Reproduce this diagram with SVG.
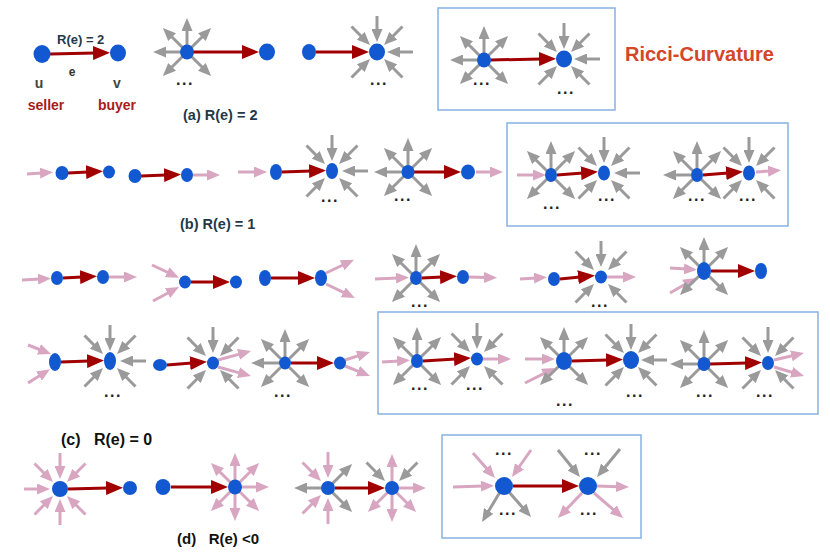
<svg xmlns="http://www.w3.org/2000/svg" width="830" height="554" viewBox="0 0 830 554">
<style>
.g{stroke:#9a9a9a;stroke-width:3;fill:none;marker-end:url(#mg)}
.p{stroke:#d8a6c0;stroke-width:3;fill:none;marker-end:url(#mp)}
.r{stroke:#a00000;stroke-width:3;fill:none;marker-end:url(#mr)}
.n{fill:#1259d1}
.frame{fill:#fff;stroke:#86b2e2;stroke-width:1.5}
.t{font-family:"Liberation Sans",Arial,sans-serif;font-weight:bold}
.lab{fill:#22394a}
.dots{fill:#222;font-size:16px;text-anchor:middle;letter-spacing:1.5px}
.mid{text-anchor:middle}
</style>
<defs>
<marker id="mg" viewBox="0 0 13 11" markerWidth="13" markerHeight="11" refX="2" refY="5.5" orient="auto" markerUnits="userSpaceOnUse"><path d="M0,0L13,5.5L0,11z" fill="#9a9a9a"/></marker>
<marker id="mp" viewBox="0 0 13 11" markerWidth="13" markerHeight="11" refX="2" refY="5.5" orient="auto" markerUnits="userSpaceOnUse"><path d="M0,0L13,5.5L0,11z" fill="#d8a6c0"/></marker>
<marker id="mr" viewBox="0 0 17 14" markerWidth="17" markerHeight="14" refX="2" refY="7" orient="auto" markerUnits="userSpaceOnUse"><path d="M0,0L17,7L0,14z" fill="#a00000"/></marker>
<path id="o-u" d="M0,-6L0,-23"/>
<path id="o-ul" d="M-4.2,-4.2L-16.3,-16.3"/>
<path id="o-ur" d="M4.2,-4.2L16.3,-16.3"/>
<path id="o-l" d="M-6,0L-23,0"/>
<path id="o-r" d="M6,0L23,0"/>
<path id="o-dl" d="M-4.2,4.2L-16.3,16.3"/>
<path id="o-dr" d="M4.2,4.2L16.3,16.3"/>
<path id="o-d" d="M0,6L0,23"/>
<path id="i-u" d="M0,-36L0,-21"/>
<path id="i-ul" d="M-25.5,-25.5L-14.8,-14.8"/>
<path id="i-ur" d="M25.5,-25.5L14.8,-14.8"/>
<path id="i-l" d="M-36,0L-21,0"/>
<path id="i-r" d="M36,0L21,0"/>
<path id="i-dl" d="M-25.5,25.5L-14.8,14.8"/>
<path id="i-dr" d="M25.5,25.5L14.8,14.8"/>
<path id="i-d" d="M0,36L0,21"/>
<g id="out5"><use href="#o-u"/><use href="#o-ul"/><use href="#o-ur"/><use href="#o-dl"/><use href="#o-dr"/></g>
<g id="out6"><use href="#out5"/><use href="#o-l"/></g>
<g id="in5"><use href="#i-u"/><use href="#i-ul"/><use href="#i-ur"/><use href="#i-dl"/><use href="#i-dr"/></g>
<g id="in6"><use href="#in5"/><use href="#i-r"/></g>
<g id="in7"><use href="#in5"/><use href="#i-l"/><use href="#i-d"/></g>
<g id="out7"><use href="#out5"/><use href="#o-r"/><use href="#o-d"/></g>
</defs>
<rect width="830" height="554" fill="#fff"/>
<g id="frames">
<rect class="frame" x="438" y="8" width="177" height="102"/>
<rect class="frame" x="507" y="123" width="281" height="103"/>
<rect class="frame" x="378" y="312" width="440" height="102"/>
<rect class="frame" x="442" y="435" width="199" height="103"/>
</g>
<g id="connectors">
<path class="r" d="M50,54L95,53"/>
<path class="r" d="M193,52L244,52"/>
<path class="r" d="M316,52L354,52"/>
<path class="r" d="M490,60L541,59"/>
<path class="r" d="M68,173L88,172"/>
<path class="r" d="M141,176L166,175"/>
<path class="r" d="M282,172L311,171"/>
<path class="r" d="M414,172L446,172"/>
<path class="r" d="M557,175L583,173"/>
<path class="r" d="M703,175L728,173"/>
<path class="r" d="M63,278L82,277"/>
<path class="r" d="M191,282L215,282"/>
<path class="r" d="M271,278L300,278"/>
<path class="r" d="M422,278L442,277"/>
<path class="r" d="M560,279L580,277"/>
<path class="r" d="M711,271L740,271"/>
<path class="r" d="M61,362L89,361"/>
<path class="r" d="M167,365L192,363"/>
<path class="r" d="M291,363L319,363"/>
<path class="r" d="M423,361L456,359"/>
<path class="r" d="M572,361L608,360"/>
<path class="r" d="M710,364L747,363"/>
<path class="r" d="M68,489L108,488"/>
<path class="r" d="M171,487L213,487"/>
<path class="r" d="M335,488L370,488"/>
<path class="r" d="M513,486L564,486"/>
<path class="p" d="M27,174L42,173"/>
<path class="p" d="M193,175L209,175"/>
<path class="p" d="M238,172L256,172"/>
<path class="p" d="M476,172L492,172"/>
<path class="p" d="M517,175L535,175"/>
<path class="p" d="M756,172L770,171"/>
<path class="p" d="M22,280L40,279"/>
<path class="p" d="M109,277L126,277"/>
<path class="p" d="M152,265L169,273"/>
<path class="p" d="M153,301L169.3,292.2"/>
<path class="p" d="M326,273L344,264.5"/>
<path class="p" d="M326,284L345,293.2"/>
<path class="p" d="M375,279L398,278"/>
<path class="p" d="M469,277L486,277.5"/>
<path class="p" d="M520,279L536,278"/>
<path class="p" d="M607,277L625,277"/>
<path class="p" d="M670,268L686,269"/>
<path class="p" d="M670,293L686.5,283.5"/>
<path class="p" d="M28,345L40.8,350"/>
<path class="p" d="M28,383L40.7,375"/>
<path class="p" d="M218,360L240.4,353.9"/>
<path class="p" d="M218,367L240.4,373.1"/>
<path class="p" d="M345,360L359.5,355.4"/>
<path class="p" d="M345,366L359.8,371.9"/>
<path class="p" d="M382,362L399,361"/>
<path class="p" d="M483,359L500,359"/>
<path class="p" d="M525,359L544,359"/>
<path class="p" d="M525,383L545.2,372.9"/>
<path class="p" d="M774,360L793.3,355.5"/>
<path class="p" d="M774,367L793.5,372.8"/>
<path class="p" d="M453,487L483,486"/>
<path class="p" d="M473,453L487.7,469.8"/>
<path class="p" d="M531,450L518.3,468"/>
<path class="g" d="M500,492L487.7,512.6"/>
<path class="g" d="M509,492L523.7,508.7"/>
<path class="g" d="M558,450L573,468.5"/>
<path class="g" d="M620,449L604,468.5"/>
<path class="p" d="M597,486L618,486.7"/>
<path class="p" d="M582,493L565.6,510.1"/>
<path class="p" d="M594,493L614.7,510.8"/>
</g>
<g id="n-u"><ellipse class="n" cx="42" cy="54" rx="8.5" ry="9"/></g>
<g id="n-v"><ellipse class="n" cx="118" cy="53" rx="8" ry="8.5"/></g>
<g id="n-a3"><use href="#out6" x="187" y="52" class="g"/><ellipse class="n" cx="187" cy="52" rx="7" ry="7.5"/></g>
<g id="n-a4"><ellipse class="n" cx="267" cy="52" rx="8" ry="8.5"/></g>
<g id="n-a5"><ellipse class="n" cx="309" cy="52" rx="7" ry="8"/></g>
<g id="n-a6"><use href="#in6" x="377" y="52" class="g"/><ellipse class="n" cx="377" cy="52" rx="8" ry="8.5"/></g>
<g id="n-a7"><use href="#out6" x="484" y="60" class="g"/><ellipse class="n" cx="484" cy="60" rx="7" ry="7.5"/></g>
<g id="n-a8"><use href="#in6" x="564" y="59" class="g"/><ellipse class="n" cx="564" cy="59" rx="8" ry="8.5"/></g>
<g id="n-b1"><ellipse class="n" cx="62" cy="173" rx="6.5" ry="7"/></g>
<g id="n-b2"><ellipse class="n" cx="109" cy="172" rx="6" ry="6.5"/></g>
<g id="n-b3"><ellipse class="n" cx="135" cy="176" rx="6.5" ry="7"/></g>
<g id="n-b4"><ellipse class="n" cx="187" cy="175" rx="6" ry="7"/></g>
<g id="n-b5"><ellipse class="n" cx="276" cy="172" rx="6" ry="8"/></g>
<g id="n-b6"><use href="#in6" x="332" y="171" class="g"/><ellipse class="n" cx="332" cy="171" rx="6" ry="8"/></g>
<g id="n-b7"><use href="#out6" x="408" y="172" class="g"/><ellipse class="n" cx="408" cy="172" rx="6.5" ry="7"/></g>
<g id="n-b8"><ellipse class="n" cx="468" cy="172" rx="7" ry="7.5"/></g>
<g id="n-b9"><use href="#out5" x="551" y="175" class="g"/><ellipse class="n" cx="551" cy="175" rx="6" ry="7"/></g>
<g id="n-b10"><use href="#in6" x="604" y="173" class="g"/><ellipse class="n" cx="604" cy="173" rx="6" ry="7.5"/></g>
<g id="n-b11"><use href="#out6" x="697" y="175" class="g"/><ellipse class="n" cx="697" cy="175" rx="6" ry="7"/></g>
<g id="n-b12"><use href="#in5" x="749" y="173" class="g"/><ellipse class="n" cx="749" cy="173" rx="6" ry="7.5"/></g>
<g id="n-c1"><ellipse class="n" cx="57" cy="278" rx="6" ry="7"/></g>
<g id="n-c2"><ellipse class="n" cx="103" cy="277" rx="6" ry="7"/></g>
<g id="n-c3"><ellipse class="n" cx="185" cy="282" rx="6" ry="6.5"/></g>
<g id="n-c4"><ellipse class="n" cx="236" cy="282" rx="6" ry="6.5"/></g>
<g id="n-c5"><ellipse class="n" cx="265" cy="278" rx="6" ry="8"/></g>
<g id="n-c6"><ellipse class="n" cx="321" cy="278" rx="6" ry="8"/></g>
<g id="n-c7"><use href="#out5" x="416" y="278" class="g"/><ellipse class="n" cx="416" cy="278" rx="6" ry="7"/></g>
<g id="n-c8"><ellipse class="n" cx="463" cy="277" rx="6" ry="7"/></g>
<g id="n-c9"><ellipse class="n" cx="554" cy="279" rx="6" ry="7"/></g>
<g id="n-c10"><use href="#in5" x="601" y="277" class="g"/><ellipse class="n" cx="601" cy="277" rx="6" ry="6.5"/></g>
<g id="n-c11"><use href="#out5" x="704" y="271" class="g"/><ellipse class="n" cx="704" cy="271" rx="7" ry="9"/></g>
<g id="n-c12"><ellipse class="n" cx="761" cy="271" rx="6" ry="8"/></g>
<g id="n-c13"><ellipse class="n" cx="55" cy="362" rx="6" ry="9"/></g>
<g id="n-c14"><use href="#in6" x="110" y="361" class="g"/><ellipse class="n" cx="110" cy="361" rx="6" ry="9"/></g>
<g id="n-c15"><ellipse class="n" cx="160" cy="365" rx="7" ry="6"/></g>
<g id="n-c16"><use href="#in5" x="213" y="363" class="g"/><ellipse class="n" cx="213" cy="363" rx="6" ry="6.5"/></g>
<g id="n-c17"><use href="#out6" x="285" y="363" class="g"/><ellipse class="n" cx="285" cy="363" rx="6" ry="6.5"/></g>
<g id="n-c18"><ellipse class="n" cx="340" cy="363" rx="6" ry="6.5"/></g>
<g id="n-c19"><use href="#out5" x="417" y="361" class="g"/><ellipse class="n" cx="417" cy="361" rx="6" ry="7"/></g>
<g id="n-c20"><use href="#in5" x="477" y="359" class="g"/><ellipse class="n" cx="477" cy="359" rx="6" ry="6.5"/></g>
<g id="n-c21"><use href="#out5" x="564" y="361" class="g"/><ellipse class="n" cx="564" cy="361" rx="8" ry="9"/></g>
<g id="n-c22"><use href="#in6" x="631" y="360" class="g"/><ellipse class="n" cx="631" cy="360" rx="8" ry="9"/></g>
<g id="n-c23"><use href="#out6" x="704" y="364" class="g"/><ellipse class="n" cx="704" cy="364" rx="6.5" ry="7"/></g>
<g id="n-c24"><use href="#in5" x="768" y="363" class="g"/><ellipse class="n" cx="768" cy="363" rx="6" ry="7"/></g>
<g id="n-d1"><use href="#in7" x="60" y="489" class="p"/><ellipse class="n" cx="60" cy="489" rx="8" ry="8"/></g>
<g id="n-d2"><ellipse class="n" cx="130" cy="488" rx="7" ry="7"/></g>
<g id="n-d3"><ellipse class="n" cx="163" cy="487" rx="7.5" ry="8"/></g>
<g id="n-d4"><use href="#out7" x="235" y="487" class="p"/><ellipse class="n" cx="235" cy="487" rx="7" ry="7.5"/></g>
<g id="n-d5"><use href="#i-u" x="328" y="488" class="p"/><use href="#i-ul" x="328" y="488" class="p"/><use href="#i-dl" x="328" y="488" class="p"/><use href="#i-d" x="328" y="488" class="p"/><use href="#o-l" x="328" y="488" class="g"/><use href="#o-ur" x="328" y="488" class="g"/><use href="#o-dr" x="328" y="488" class="g"/><ellipse class="n" cx="328" cy="488" rx="7" ry="7"/></g>
<g id="n-d6"><use href="#i-ul" x="392" y="488" class="g"/><use href="#i-ur" x="392" y="488" class="g"/><use href="#o-u" x="392" y="488" class="p"/><use href="#o-r" x="392" y="488" class="p"/><use href="#o-dl" x="392" y="488" class="p"/><use href="#o-dr" x="392" y="488" class="p"/><use href="#o-d" x="392" y="488" class="p"/><ellipse class="n" cx="392" cy="488" rx="7" ry="7"/></g>
<g id="n-d7"><ellipse class="n" cx="504" cy="486" rx="9" ry="9"/></g>
<g id="n-d8"><ellipse class="n" cx="588" cy="486" rx="9" ry="9"/></g>
<g id="labels" class="t">
<text class="lab" x="57" y="44" font-size="13">R(e) = 2</text>
<text x="72" y="76" font-size="12" fill="#333" class="mid">e</text>
<text x="39" y="88" font-size="14" fill="#444" class="mid">u</text>
<text x="117" y="88" font-size="14" fill="#444" class="mid">v</text>
<text x="46" y="110" font-size="14" fill="#a61c1c" class="mid">seller</text>
<text x="117" y="110" font-size="14" fill="#a61c1c" class="mid">buyer</text>
<text class="lab" x="183" y="120" font-size="14.5">(a) R(e) = 2</text>
<text class="lab" x="180" y="229" font-size="14.5">(b) R(e) = 1</text>
<text x="61" y="445" font-size="16" fill="#111" style="white-space:pre">(c)   R(e) = 0</text>
<text x="177" y="544" font-size="15" fill="#111" style="white-space:pre">(d)   R(e) &lt;0</text>
<text x="625" y="61" font-size="20" fill="#d4462a">Ricci-Curvature</text>
<g class="dots">
<text x="185" y="85">...</text>
<text x="379" y="85">...</text>
<text x="482" y="85">...</text>
<text x="566" y="94">...</text>
<text x="330" y="202">...</text>
<text x="403" y="201">...</text>
<text x="552" y="209">...</text>
<text x="607" y="201">...</text>
<text x="697" y="201">...</text>
<text x="748" y="201">...</text>
<text x="420" y="307">...</text>
<text x="600" y="307">...</text>
<text x="113" y="397">...</text>
<text x="283" y="397">...</text>
<text x="420" y="390">...</text>
<text x="475" y="390">...</text>
<text x="565" y="406">...</text>
<text x="635" y="397">...</text>
<text x="705" y="397">...</text>
<text x="765" y="397">...</text>
<text x="504" y="455">...</text>
<text x="508" y="515">...</text>
<text x="593" y="455">...</text>
<text x="589" y="515">...</text>
</g>
</g>
</svg>
